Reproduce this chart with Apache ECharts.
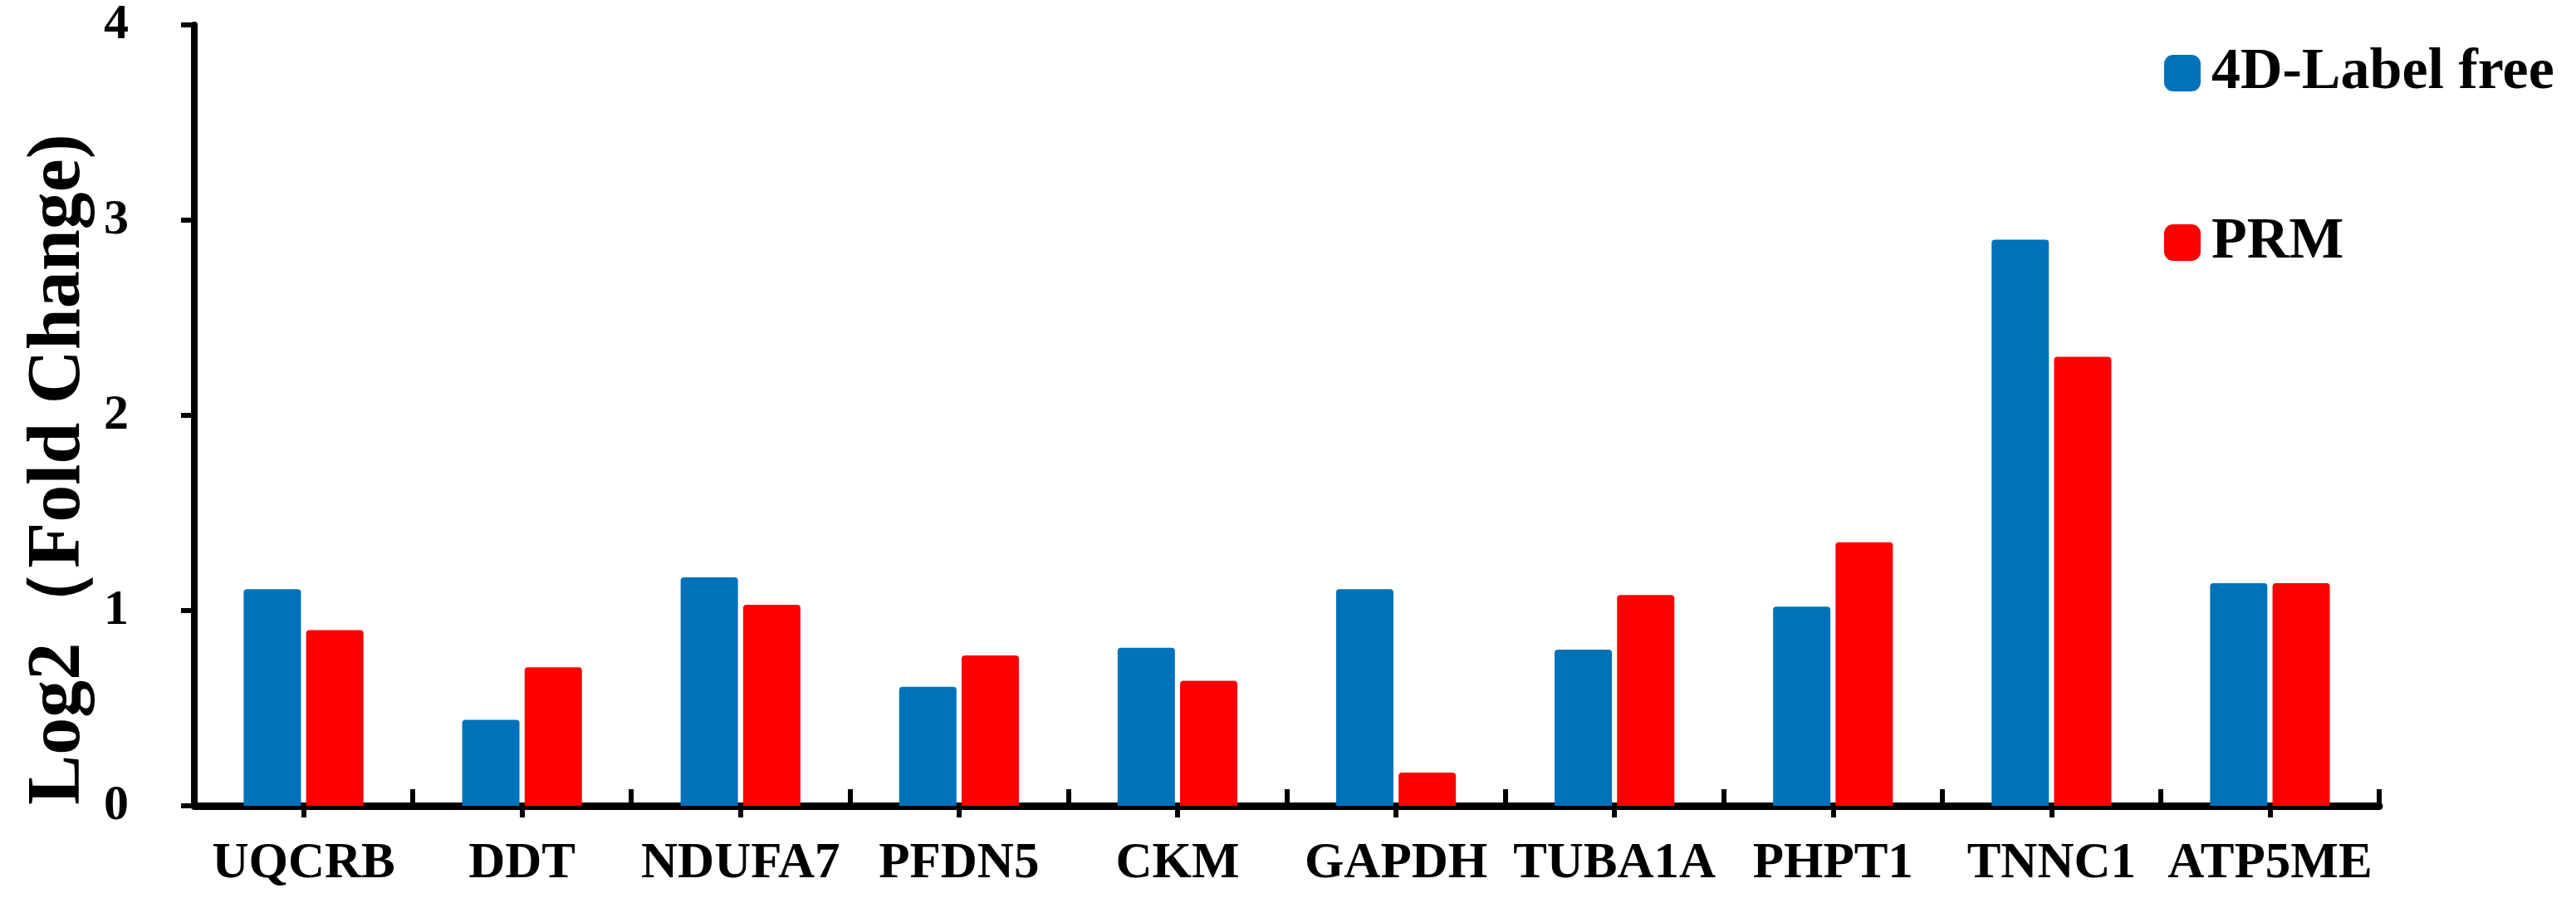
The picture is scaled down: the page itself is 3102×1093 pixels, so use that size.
<!DOCTYPE html>
<html>
<head>
<meta charset="utf-8">
<script src="https://cdn.jsdelivr.net/npm/echarts@6/dist/echarts.min.js"></script>
<style>
html,body{margin:0;padding:0;background:#fff;}
#chart{width:3102px;height:1093px;}
</style>
</head>
<body>
<div id="chart"></div>
<script>
const categories = ['UQCRB','DDT','NDUFA7','PFDN5','CKM','GAPDH','TUBA1A','PHPT1','TNNC1','ATP5ME'];
const labelFreeValues = [1.11, 0.44, 1.17, 0.61, 0.81, 1.11, 0.80, 1.02, 2.90, 1.14];
const prmValues = [0.90, 0.71, 1.03, 0.77, 0.64, 0.17, 1.08, 1.35, 2.30, 1.14];
const seriesNames = ['4D-Label free', 'PRM'];
const yTicks = [0, 1, 2, 3, 4];
const yTitle = 'Log2（Fold Change)';

const FONT = '"Liberation Serif","Times New Roman",serif';
const chart = echarts.init(document.getElementById('chart'), null, {renderer:'canvas'});
chart.setOption({
  backgroundColor: '#ffffff',
  animation: false,
  grid: {left: 234, right: 237, top: 30, bottom: 123, containLabel: false},
  legend: {
    orient: 'vertical',
    left: 2601,
    top: 48,
    itemWidth: 44,
    itemHeight: 44,
    itemGap: 134,
    icon: 'roundRect',
    data: seriesNames,
    textStyle: {fontFamily: FONT, fontWeight: 'bold', fontSize: 70, color: '#000', padding: [0,0,0,8]}
  },
  graphic: [{
    type: 'text',
    x: 72,
    y: 565,
    rotation: Math.PI / 2,
    style: {
      text: yTitle,
      font: 'bold 90px ' + FONT,
      fill: '#000',
      textAlign: 'center',
      textVerticalAlign: 'middle'
    }
  }],
  xAxis: [{
    type: 'category',
    data: categories,
    position: 'bottom',
    axisLine: {show: true, lineStyle: {color: '#000', width: 9}},
    axisTick: {show: true, inside: true, length: 20, lineStyle: {color: '#000', width: 6}},
    axisLabel: {show: true, margin: 40, fontFamily: FONT, fontWeight: 'bold', fontSize: 61, color: '#000', interval: 0},
    splitLine: {show: false}
  }, {
    type: 'category',
    data: categories,
    position: 'bottom',
    axisLine: {show: false},
    axisTick: {show: true, alignWithLabel: true, inside: false, length: 14, lineStyle: {color: '#000', width: 6}},
    axisLabel: {show: false},
    splitLine: {show: false}
  }],
  yAxis: {
    type: 'value',
    min: yTicks[0],
    max: yTicks[yTicks.length - 1],
    interval: 1,
    axisLine: {show: true, lineStyle: {color: '#000', width: 8}},
    axisTick: {show: true, inside: false, length: 16, lineStyle: {color: '#000', width: 6}},
    axisLabel: {margin: 79, fontFamily: FONT, fontWeight: 'bold', fontSize: 60, color: '#000'},
    splitLine: {show: false}
  },
  series: [{
    name: seriesNames[0],
    type: 'bar',
    xAxisIndex: 0,
    data: labelFreeValues,
    barWidth: 69,
    barGap: '9%',
    itemStyle: {color: '#0072BA', borderRadius: [4,4,0,0]}
  }, {
    name: seriesNames[1],
    type: 'bar',
    xAxisIndex: 0,
    data: prmValues,
    barWidth: 69,
    barGap: '9%',
    itemStyle: {color: '#FF0000', borderRadius: [4,4,0,0]}
  }]
});
</script>
</body>
</html>
